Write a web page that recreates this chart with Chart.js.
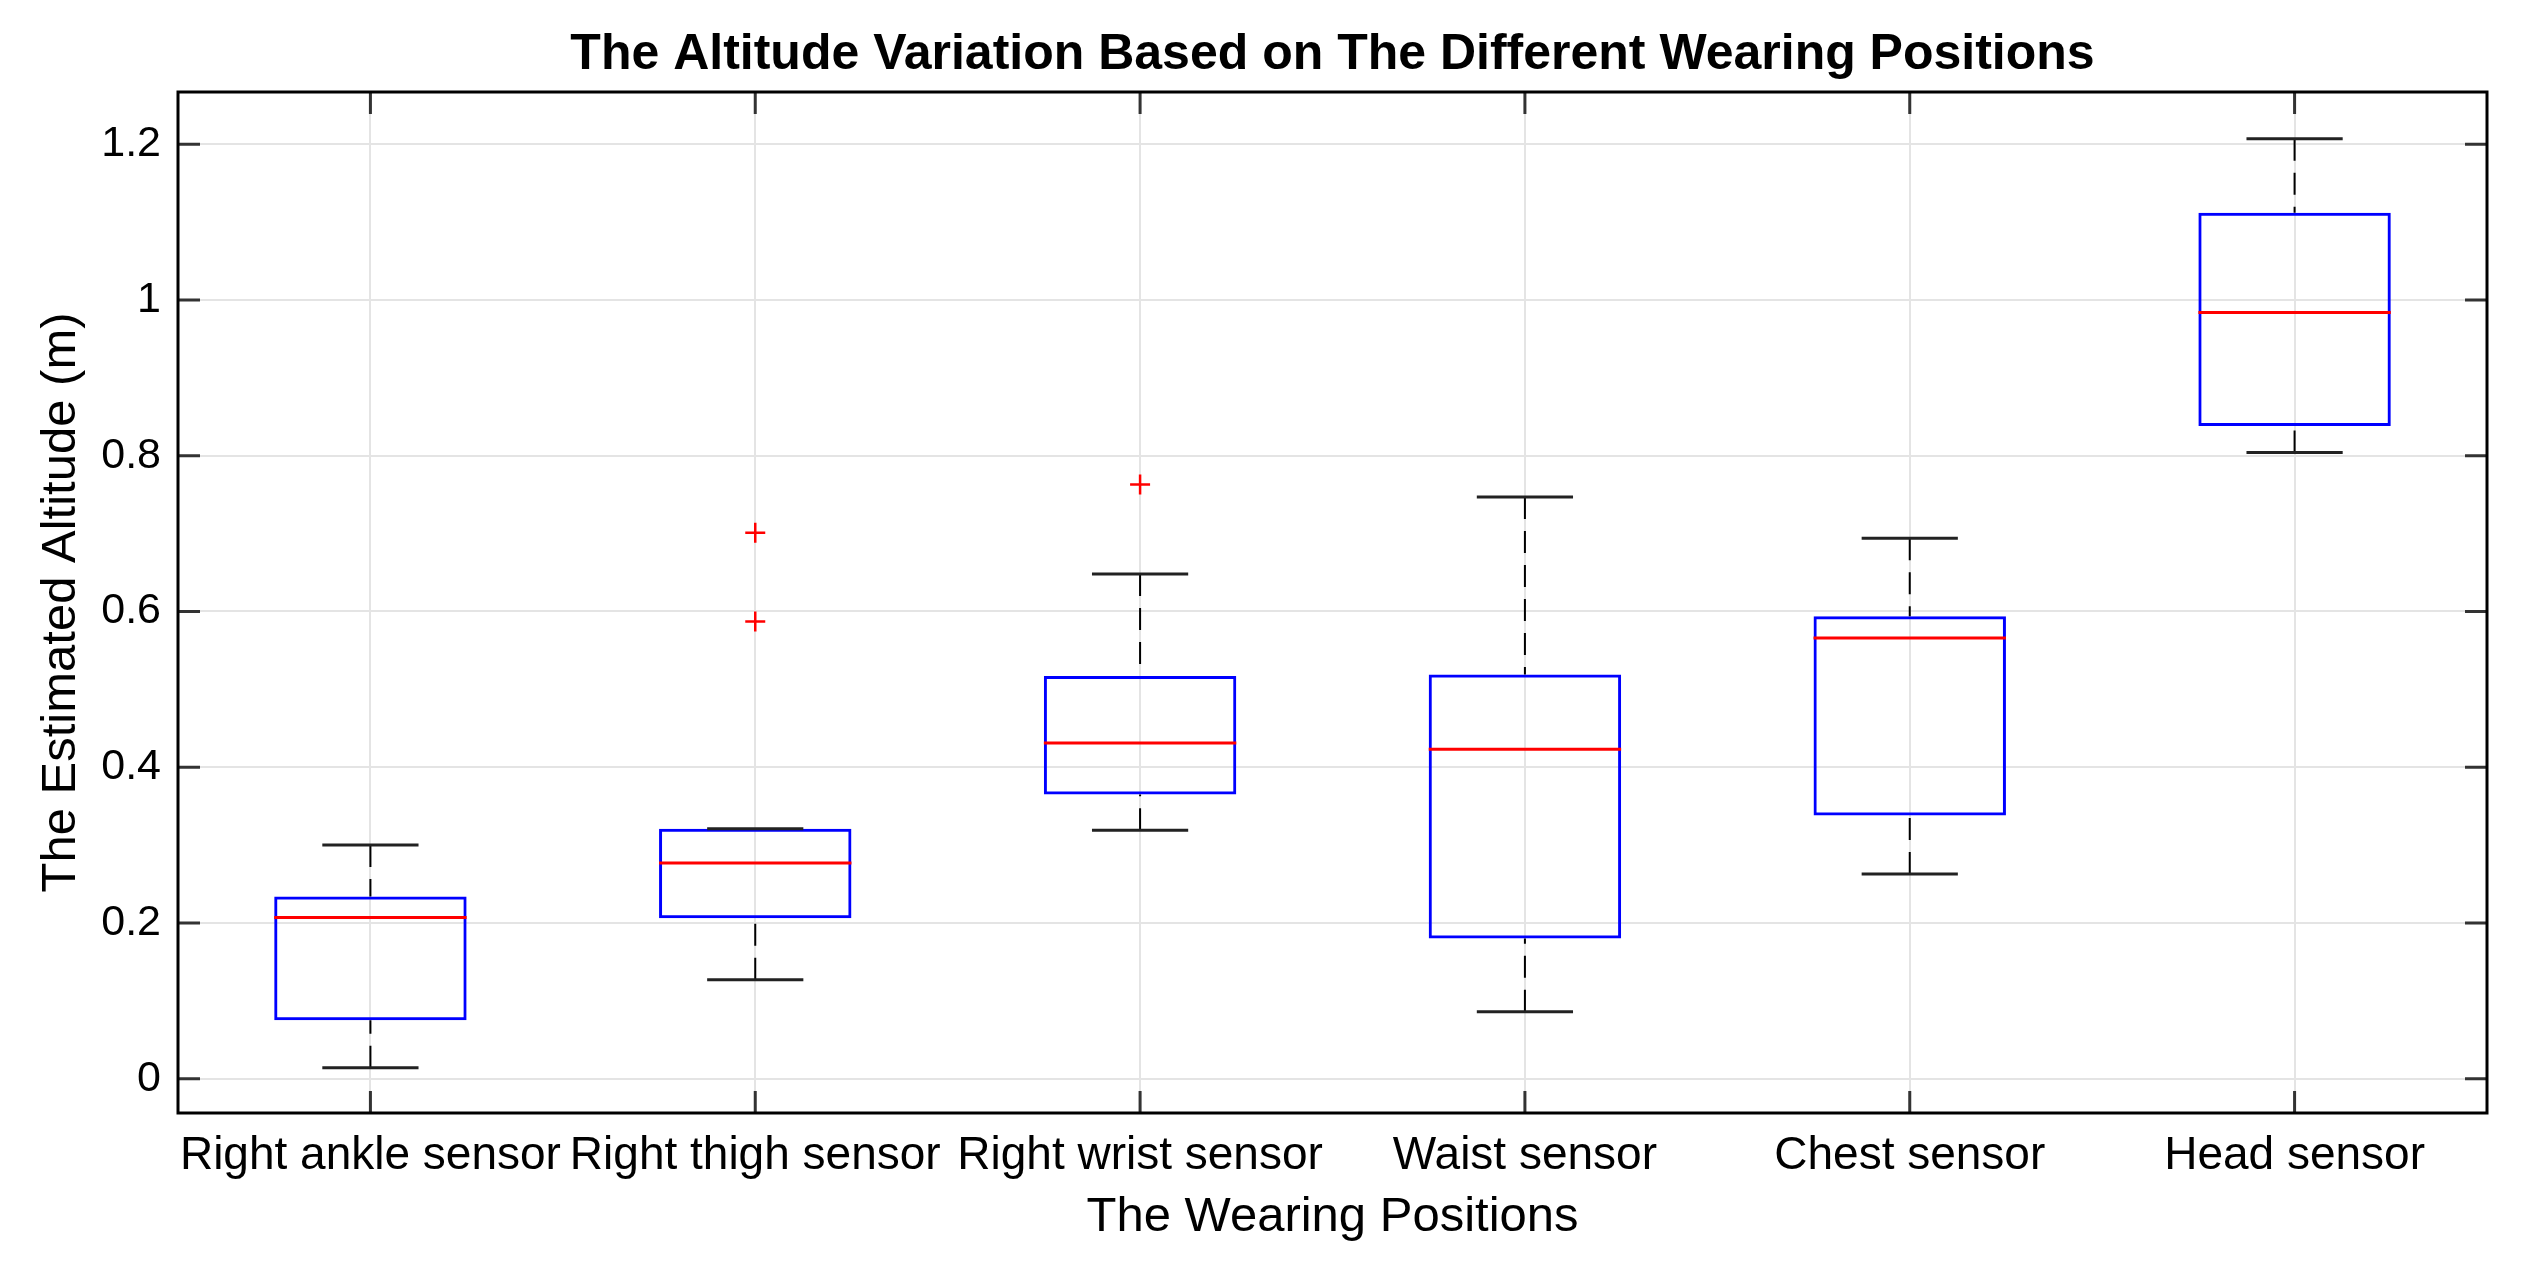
<!DOCTYPE html>
<html lang="en">
<head>
    <meta charset="UTF-8">
    <title>Altitude Variation by Wearing Position</title>
    <script src="https://cdn.jsdelivr.net/npm/chart.js"></script>
    <style>
        html, body { margin: 0; padding: 0; background: #ffffff; }
        #wrap { width: 2527px; height: 1267px; position: relative; }
    </style>
</head>
<body>
    <div id="wrap"><canvas id="boxChart"></canvas></div>

    <script>
        // Data
        const categories = ['Right ankle sensor', 'Right thigh sensor', 'Right wrist sensor', 'Waist sensor', 'Chest sensor', 'Head sensor'];
        const whiskerLow  = [0.014, 0.127, 0.319, 0.086, 0.263, 0.804];
        const q1          = [0.075, 0.206, 0.365, 0.180, 0.338, 0.838];
        const medians     = [0.207, 0.277, 0.431, 0.423, 0.566, 0.984];
        const q3          = [0.234, 0.321, 0.517, 0.519, 0.594, 1.112];
        const whiskerHigh = [0.300, 0.321, 0.648, 0.747, 0.694, 1.207];
        const outlierCat   = [1, 1, 2];
        const outlierValue = [0.587, 0.701, 0.763];
        const yTickValues = [0, 0.2, 0.4, 0.6, 0.8, 1, 1.2];
        const yTickLabels = ['0', '0.2', '0.4', '0.6', '0.8', '1', '1.2'];

        const FONT = "'Liberation Sans', Arial, sans-serif";

        // whiskers, caps and medians, placed through the chart scales
        const boxExtras = {
            id: 'boxExtras',
            afterDatasetsDraw(chart) {
                const ctx = chart.ctx;
                const x = chart.scales.x, y = chart.scales.y;
                const step = x.getPixelForValue(1) - x.getPixelForValue(0);
                const halfBox = step * 0.25;
                const halfCap = step * 0.125;
                ctx.save();
                categories.forEach((c, i) => {
                    const cx = x.getPixelForValue(i);
                    // dashed whiskers
                    ctx.strokeStyle = '#000000';
                    ctx.lineWidth = 2;
                    ctx.setLineDash([22, 12]);
                    ctx.beginPath();
                    ctx.moveTo(cx, y.getPixelForValue(whiskerHigh[i]));
                    ctx.lineTo(cx, y.getPixelForValue(q3[i]));
                    ctx.moveTo(cx, y.getPixelForValue(whiskerLow[i]));
                    ctx.lineTo(cx, y.getPixelForValue(q1[i]));
                    ctx.stroke();
                    // caps
                    ctx.setLineDash([]);
                    ctx.lineWidth = 3;
                    ctx.strokeStyle = '#222222';
                    ctx.beginPath();
                    [whiskerHigh[i], whiskerLow[i]].forEach(v => {
                        const py = y.getPixelForValue(v);
                        ctx.moveTo(cx - halfCap, py);
                        ctx.lineTo(cx + halfCap, py);
                    });
                    ctx.stroke();
                    // median
                    ctx.strokeStyle = '#ff0000';
                    ctx.lineWidth = 3;
                    ctx.beginPath();
                    const my = y.getPixelForValue(medians[i]);
                    ctx.moveTo(cx - halfBox, my);
                    ctx.lineTo(cx + halfBox, my);
                    ctx.stroke();
                });
                ctx.restore();
            },
            afterDraw(chart) {
                // frame and inward ticks on all four sides
                const ctx = chart.ctx;
                const a = chart.chartArea;
                const x = chart.scales.x, y = chart.scales.y;
                const len = 22;
                ctx.save();
                ctx.strokeStyle = '#333333';
                ctx.lineWidth = 3;
                ctx.beginPath();
                y.ticks.forEach(t => {
                    const py = y.getPixelForValue(t.value);
                    ctx.moveTo(a.left, py); ctx.lineTo(a.left + len, py);
                    ctx.moveTo(a.right, py); ctx.lineTo(a.right - len, py);
                });
                categories.forEach((c, i) => {
                    const px = x.getPixelForValue(i);
                    ctx.moveTo(px, a.top); ctx.lineTo(px, a.top + len);
                    ctx.moveTo(px, a.bottom); ctx.lineTo(px, a.bottom - len);
                });
                ctx.stroke();
                ctx.strokeStyle = '#000000';
                ctx.lineWidth = 3;
                ctx.strokeRect(a.left, a.top, a.right - a.left, a.bottom - a.top);
                ctx.restore();
            }
        };

        const ctx = document.getElementById('boxChart').getContext('2d');
        new Chart(ctx, {
            type: 'bar',
            data: {
                labels: categories,
                datasets: [{
                    type: 'bar',
                    label: 'IQR',
                    data: categories.map((c, i) => [q1[i], q3[i]]),
                    backgroundColor: 'rgba(0,0,0,0)',
                    borderColor: '#0000ff',
                    borderWidth: 3,
                    borderSkipped: false,
                    categoryPercentage: 1,
                    barPercentage: 0.5
                }, {
                    type: 'scatter',
                    label: 'Outliers',
                    data: outlierCat.map((c, i) => ({ x: categories[c], y: outlierValue[i] })),
                    pointStyle: 'cross',
                    pointRadius: 10,
                    borderColor: '#ff0000',
                    borderWidth: 2.5
                }]
            },
            options: {
                responsive: true,
                maintainAspectRatio: false,
                devicePixelRatio: 1,
                animation: false,
                layout: { padding: { left: 0, right: 40, top: 0, bottom: 0 } },
                plugins: {
                    legend: { display: false },
                    tooltip: { enabled: false },
                    title: {
                        display: true,
                        fullSize: false,
                        text: 'The Altitude Variation Based on The Different Wearing Positions',
                        color: '#000000',
                        font: { family: FONT, size: 50, weight: 'bold', lineHeight: 1.2 },
                        padding: { top: 25, bottom: 7 }
                    }
                },
                scales: {
                    x: {
                        type: 'category',
                        offset: true,
                        grid: { offset: false, color: '#e4e4e4', lineWidth: 2, drawTicks: false },
                        border: { display: false },
                        ticks: {
                            color: '#000000',
                            font: { family: FONT, size: 46, lineHeight: 1.2 },
                            padding: 16,
                            maxRotation: 0,
                            autoSkip: false
                        },
                        title: {
                            display: true,
                            text: 'The Wearing Positions',
                            color: '#000000',
                            font: { family: FONT, size: 49, lineHeight: 1.2 },
                            padding: { top: 0, bottom: 20 }
                        },
                        afterFit(scale) { scale.height = 154; }
                    },
                    y: {
                        type: 'linear',
                        min: -0.044,
                        max: 1.267,
                        grid: { color: '#e4e4e4', lineWidth: 2, drawTicks: false },
                        border: { display: false },
                        ticks: {
                            stepSize: 0.2,
                            includeBounds: false,
                            color: '#000000',
                            font: { family: FONT, size: 43 },
                            padding: 17,
                            callback: function(value) {
                                const k = yTickValues.findIndex(v => Math.abs(v - value) < 1e-6);
                                return k >= 0 ? yTickLabels[k] : '';
                            }
                        },
                        title: {
                            display: true,
                            text: 'The Estimated Altitude (m)',
                            color: '#000000',
                            font: { family: FONT, size: 49, lineHeight: 1.2 },
                            padding: { top: 32, bottom: 0 }
                        },
                        afterFit(scale) { scale.width = 178; }
                    }
                }
            },
            plugins: [boxExtras]
        });
    </script>
</body>
</html>
